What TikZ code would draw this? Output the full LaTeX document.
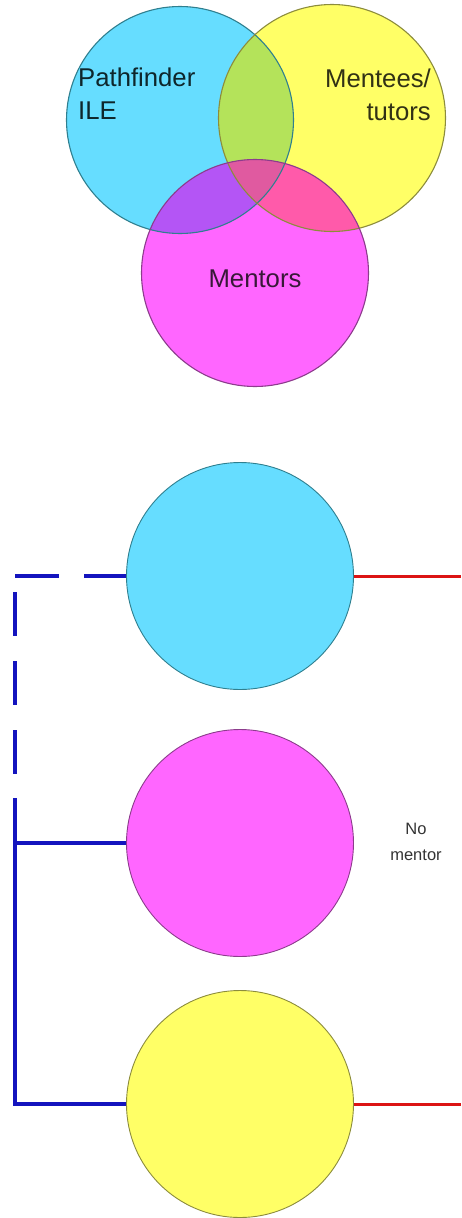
\documentclass[tikz,border=0pt]{standalone}
\usepackage{fontspec}
\setmainfont{Liberation Sans}
\usetikzlibrary{positioning,calc}
\definecolor{CyanFill}{HTML}{66DDFF}
\definecolor{YellowFill}{HTML}{FFFF66}
\definecolor{MagFill}{HTML}{FF66FF}
\definecolor{CyanYellow}{HTML}{B4E35A}
\definecolor{CyanMag}{HTML}{B455F5}
\definecolor{YellowMag}{HTML}{FF5AAA}
\definecolor{AllThree}{HTML}{E05AA0}
\definecolor{CyanEdge}{HTML}{2F7F8F}
\definecolor{YellowEdge}{HTML}{8C8C3C}
\definecolor{MagEdge}{HTML}{8C3C8C}
\definecolor{LinkBlue}{HTML}{1414BE}
\definecolor{LinkRed}{HTML}{DC1414}

\begin{document}
\begin{tikzpicture}[
    x=1pt,y=-1pt,
    disc/.style={circle,inner sep=0pt,minimum size=227pt},
    bigtext/.style={font=\fontsize{25.7}{33}\selectfont,align=left,inner sep=0pt},
    smalltext/.style={font=\fontsize{16.5}{26}\selectfont,align=center,inner sep=0pt,text=black!80},
    bluelink/.style={LinkBlue,line width=4.2pt},
    bluedash/.style={bluelink,dash pattern=on 44pt off 25pt},
    redlink/.style={LinkRed,line width=3pt}
  ]
    \useasboundingbox (0,0) rectangle (461,1218);

    % top: overlapping circles
    \node[disc,fill=CyanFill] (ile) at (180,120) {};
    \node[disc,fill=YellowFill] (mentees) at (332,118) {};
    \node[disc,fill=MagFill] (mentors) at (255,273) {};
    \begin{scope}
      \clip (ile.center) circle (113.5pt);
      \fill[CyanYellow] (mentees.center) circle (113.5pt);
      \fill[CyanMag] (mentors.center) circle (113.5pt);
    \end{scope}
    \begin{scope}
      \clip (mentees.center) circle (113.5pt);
      \fill[YellowMag] (mentors.center) circle (113.5pt);
      \clip (ile.center) circle (113.5pt);
      \fill[AllThree] (mentors.center) circle (113.5pt);
    \end{scope}
    \draw[CyanEdge,line width=1.1pt] (ile.center) circle (113.5pt);
    \draw[YellowEdge,line width=1.1pt] (mentees.center) circle (113.5pt);
    \draw[MagEdge,line width=1.1pt] (mentors.center) circle (113.5pt);

    \node[bigtext,anchor=base west,text=black!70!CyanEdge] (ilelabel) at (78,119) {Pathfinder\\ILE};
    \node[bigtext,align=right,anchor=base east,text=black!65!YellowEdge] (menteeslabel) at (431,120) {Mentees/\\tutors};
    \node[bigtext,anchor=base,text=black!60!MagEdge] (mentorslabel) at (255,287) {Mentors};

    % bottom: separate circles
    \node[disc,fill=CyanFill,draw=CyanEdge,line width=0.9pt] (ilelow) at (240,576) {};
    \node[disc,fill=MagFill,draw=MagEdge,line width=0.9pt] (mentorslow) at (240,843) {};
    \node[disc,fill=YellowFill,draw=YellowEdge,line width=0.9pt] (menteeslow) at (240,1104) {};
    \node[smalltext] (nomentor) at (416,842) {No\\mentor};

    \coordinate (cornertop) at (15,576);
    \coordinate (dashend) at (15,798);
    \coordinate (cornerlow) at (15,1104);
    \coordinate (redtop) at (461,576);
    \coordinate (redlow) at (461,1104);

    \draw[bluedash] (cornertop) -- (ilelow.west);
    \draw[bluedash,dash phase=53pt] (cornertop) -- (dashend);
    \draw[bluelink] (dashend) -- (cornerlow) -- (menteeslow.west);
    \draw[bluelink] (mentorslow.west) -- (mentorslow.west -| cornertop);
    \draw[redlink] (ilelow.east) -- (redtop);
    \draw[redlink] (menteeslow.east) -- (redlow);
  \end{tikzpicture}
\end{document}
